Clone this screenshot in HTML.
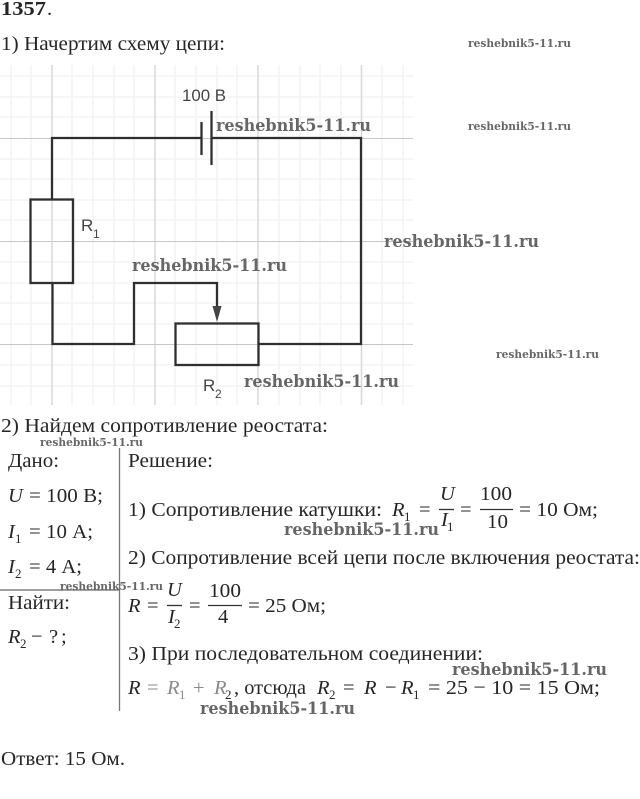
<!DOCTYPE html>
<html><head><meta charset="utf-8"><style>
html,body{margin:0;padding:0;background:#fff;width:640px;height:799px;overflow:hidden}
svg{display:block}
text{font-family:"Liberation Serif","DejaVu Serif",serif;fill:#262626;font-size:20.5px}
.s{font-family:"Liberation Sans",sans-serif;fill:#444;font-size:17px}
.w{font-family:"DejaVu Serif","Liberation Serif",serif;font-weight:bold;fill:#666;font-size:17px}
.w2{font-family:"DejaVu Serif","Liberation Serif",serif;font-weight:bold;fill:#666;font-size:11.5px}
.i{font-style:italic}
.u{font-size:13px}
.g{fill:#8a8a8a}
</style></head><body>
<svg width="640" height="799" viewBox="0 0 640 799" xmlns="http://www.w3.org/2000/svg">
<g stroke="#f3f3f3" stroke-width="1.500">
<path d="M11 65V405M31 65V405M72 65V405M93 65V405M114 65V405M134 65V405M175 65V405M196 65V405M217 65V405M237 65V405M279 65V405M300 65V405M320 65V405M341 65V405M382 65V405M403 65V405"/>
<path d="M0 76H413M0 97H413M0 117H413M0 159H413M0 179H413M0 200H413M0 220H413M0 262H413M0 283H413M0 303H413M0 324H413M0 365H413M0 386H413"/>
</g>
<g stroke="#d8d8d8" stroke-width="1.500">
<path d="M52 65V405M155 65V405M258 65V405M361.500 65V405"/>
</g>
<g stroke="#c6c6c6" stroke-width="1">
<path d="M0 138.500H413M0 241.500H413M0 344.500H413"/>
</g>
<g stroke="#2f2f2f" stroke-width="2.300" fill="none">
<path d="M201 138H52V199.500M212 138H361V344H259"/>
<rect x="30.500" y="199.500" width="42.500" height="83.500"/>
<path d="M52.500 283V344H134V283H217V310"/>
<rect x="175.500" y="323.500" width="83" height="41.500"/>
<path d="M201.500 122V155M211.500 111V165"/>
</g>
<path d="M212.500 306H221.500L217 322Z" fill="#444"/>
<text class="s" x="182" y="101" textLength="44" lengthAdjust="spacingAndGlyphs">100 В</text>
<text class="s" x="81" y="231">R</text><text class="s" x="93" y="238" style="font-size:12px">1</text>
<text class="s" x="203" y="391">R</text><text class="s" x="215" y="398" style="font-size:12px">2</text>

<text x="1" y="15" style="font-weight:bold" textLength="45" lengthAdjust="spacingAndGlyphs">1357</text><text x="47" y="15">.</text>
<text x="1" y="50" textLength="224" lengthAdjust="spacingAndGlyphs">1) Начертим схему цепи:</text>
<text x="1" y="432" textLength="327" lengthAdjust="spacingAndGlyphs">2) Найдем сопротивление реостата:</text>

<path d="M119.500 448V711" stroke="#777" stroke-width="1.300"/>
<path d="M0 590H119" stroke="#666" stroke-width="1.300"/>

<text x="8" y="467" textLength="51" lengthAdjust="spacingAndGlyphs">Дано:</text>
<text x="8" y="502" class="i">U</text><text x="29" y="502" textLength="74" lengthAdjust="spacingAndGlyphs">= 100 В;</text>
<text x="8" y="538" class="i">I</text><text class="u" x="15" y="543">1</text><text x="29" y="538" textLength="64" lengthAdjust="spacingAndGlyphs">= 10 А;</text>
<text x="8" y="573" class="i">I</text><text class="u" x="15" y="578">2</text><text x="29" y="573" textLength="53" lengthAdjust="spacingAndGlyphs">= 4 А;</text>
<text x="8" y="609" textLength="62" lengthAdjust="spacingAndGlyphs">Найти:</text>
<text x="8" y="643" class="i">R</text><text class="u" x="20" y="648">2</text><text x="31" y="643">−</text><text x="49" y="643">?</text><text x="61" y="643">;</text>

<text x="128" y="467" textLength="85" lengthAdjust="spacingAndGlyphs">Решение:</text>
<text x="128" y="516" textLength="254" lengthAdjust="spacingAndGlyphs">1) Сопротивление катушки:</text>
<text x="392" y="516" class="i">R</text><text class="u" x="404" y="521">1</text>
<text x="419" y="516">=</text>
<text x="440" y="500" class="i">U</text><path d="M439 509.500H454" stroke="#333" stroke-width="1.300"/>
<text x="441" y="526" class="i">I</text><text class="u" x="447" y="531">1</text>
<text x="460" y="516">=</text>
<text x="480" y="500" textLength="32" lengthAdjust="spacingAndGlyphs">100</text><path d="M480 509.500H513" stroke="#333" stroke-width="1.300"/>
<text x="487" y="528" textLength="21" lengthAdjust="spacingAndGlyphs">10</text>
<text x="519" y="516" textLength="79" lengthAdjust="spacingAndGlyphs">= 10 Ом;</text>

<text x="128" y="564" textLength="512" lengthAdjust="spacingAndGlyphs">2) Сопротивление всей цепи после включения реостата:</text>

<text x="128" y="612" class="i">R</text>
<text x="147" y="612">=</text>
<text x="167" y="596" class="i">U</text><path d="M167 605.500H182" stroke="#333" stroke-width="1.300"/>
<text x="168" y="623" class="i">I</text><text class="u" x="174" y="628">2</text>
<text x="189" y="612">=</text>
<text x="209" y="597" textLength="32" lengthAdjust="spacingAndGlyphs">100</text><path d="M208 605.500H242" stroke="#333" stroke-width="1.300"/>
<text x="218" y="623">4</text>
<text x="248" y="612" textLength="78" lengthAdjust="spacingAndGlyphs">= 25 Ом;</text>

<text x="128" y="660" textLength="355" lengthAdjust="spacingAndGlyphs">3) При последовательном соединении:</text>
<text x="128" y="694" class="i">R</text><text x="147" y="694" class="g">=</text>
<text x="167" y="694" class="i g">R</text><text class="u g" x="179" y="699">1</text>
<text x="193" y="694" class="g">+</text>
<text x="214" y="694" class="i g">R</text><text class="u" x="225" y="699">2</text>
<text x="234" y="694" textLength="72" lengthAdjust="spacingAndGlyphs">, отсюда</text>
<text x="317" y="694" class="i">R</text><text class="u" x="329" y="699">2</text>
<text x="343" y="694">=</text>
<text x="364" y="694" class="i">R</text><text x="385" y="694">−</text>
<text x="401" y="694" class="i">R</text><text class="u" x="413" y="699">1</text>
<text x="428" y="694" textLength="172" lengthAdjust="spacingAndGlyphs">= 25 − 10 = 15 Ом;</text>

<text x="1" y="765" textLength="124" lengthAdjust="spacingAndGlyphs">Ответ:  15 Ом.</text>

<g>
<text class="w2" x="468" y="47" textLength="103" lengthAdjust="spacingAndGlyphs">reshebnik5-11.ru</text>
<text class="w2" x="468" y="130" textLength="103" lengthAdjust="spacingAndGlyphs">reshebnik5-11.ru</text>
<text class="w2" x="496" y="358" textLength="103" lengthAdjust="spacingAndGlyphs">reshebnik5-11.ru</text>
<text class="w2" x="40" y="446" textLength="103" lengthAdjust="spacingAndGlyphs">reshebnik5-11.ru</text>
<text class="w2" x="60" y="590" textLength="103" lengthAdjust="spacingAndGlyphs">reshebnik5-11.ru</text>
<text class="w" x="216" y="131" textLength="155" lengthAdjust="spacingAndGlyphs">reshebnik5-11.ru</text>
<text class="w" x="384" y="247" textLength="155" lengthAdjust="spacingAndGlyphs">reshebnik5-11.ru</text>
<text class="w" x="132" y="271" textLength="155" lengthAdjust="spacingAndGlyphs">reshebnik5-11.ru</text>
<text class="w" x="244" y="387" textLength="155" lengthAdjust="spacingAndGlyphs">reshebnik5-11.ru</text>
<text class="w" x="284" y="535" textLength="155" lengthAdjust="spacingAndGlyphs">reshebnik5-11.ru</text>
<text class="w" x="452" y="675" textLength="155" lengthAdjust="spacingAndGlyphs">reshebnik5-11.ru</text>
<text class="w" x="200" y="714" textLength="155" lengthAdjust="spacingAndGlyphs">reshebnik5-11.ru</text>
</g>
</svg>
</body></html>
